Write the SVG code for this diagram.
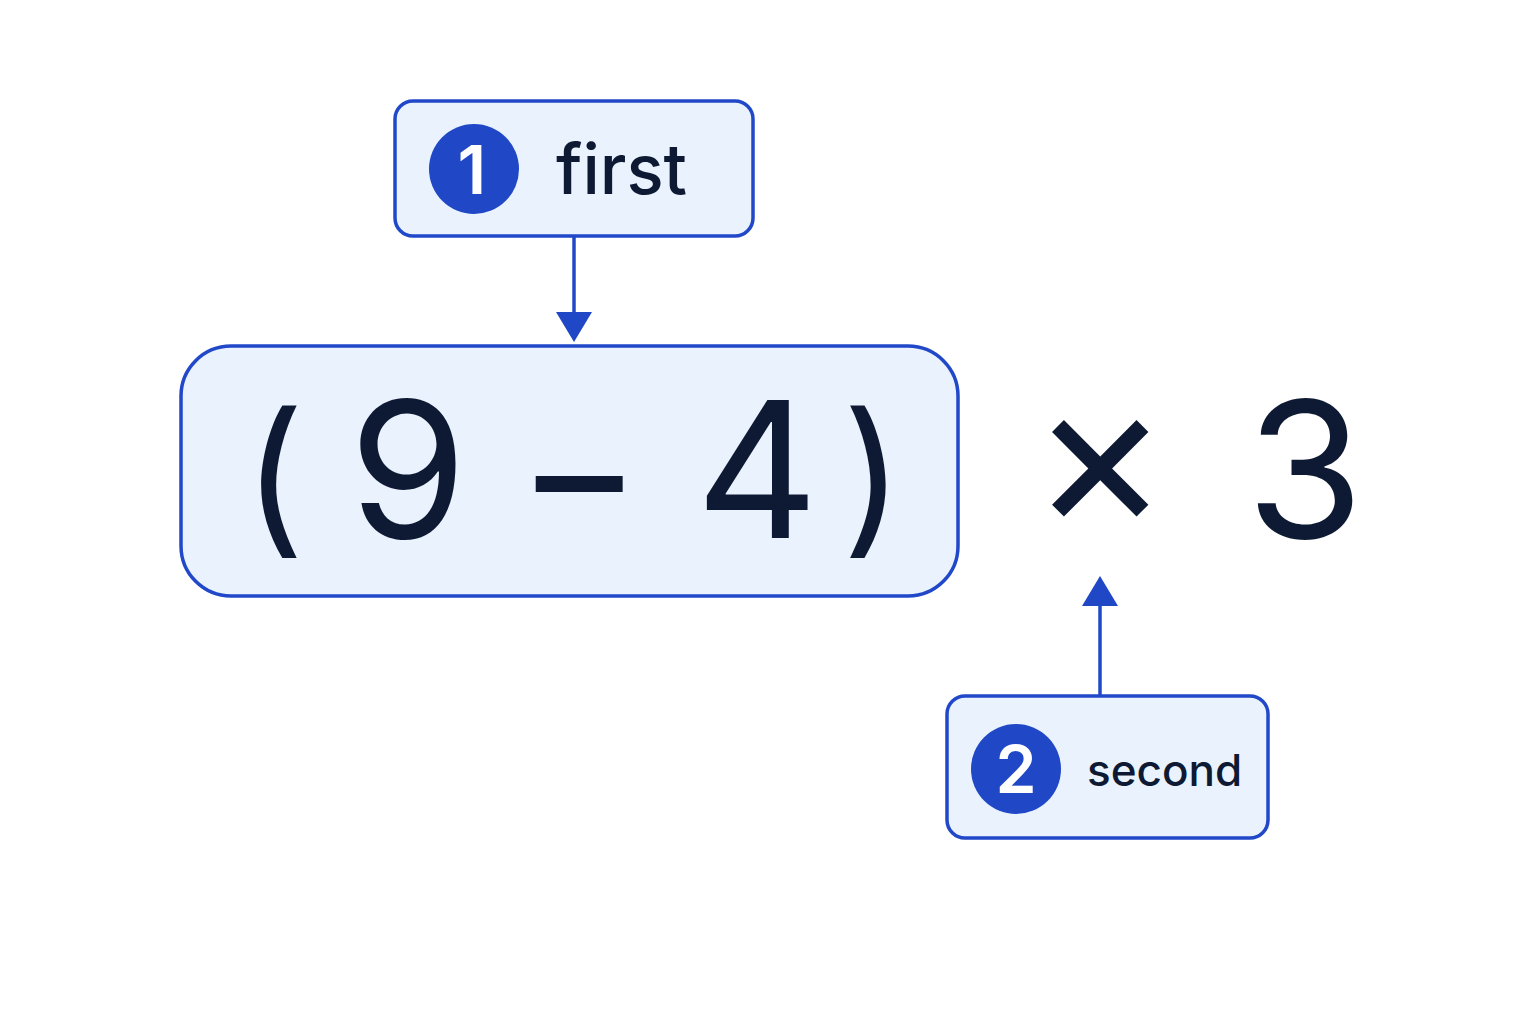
<svg xmlns="http://www.w3.org/2000/svg" width="1536" height="1024" viewBox="0 0 1536 1024">
<style>
.box{fill:#EAF3FD;stroke:#2148C8;stroke-width:3.5}
.t{font-family:Inter,"Liberation Sans",sans-serif;fill:#0E1A33}
.big{font-size:190px;text-anchor:middle}
.par{font-size:168px}
.mul{font-size:210px}
.badge{fill:#1F47C6}
.num{font-family:Inter,"Liberation Sans",sans-serif;fill:#fff;font-weight:600;text-anchor:middle}
.ln{stroke:#2148C8;stroke-width:3.5;fill:none}
</style>
<rect width="1536" height="1024" fill="#fff"/>
<g id="expr">
<rect class="box" x="181" y="346" width="777" height="250" rx="50"/>
<text class="t big par" x="274" y="535">(</text>
<text class="t big" x="408" y="538">9</text>
<text class="t big" x="579" y="538">−</text>
<text class="t big" x="757" y="538">4</text>
<text class="t big par" x="873" y="535">)</text>
<text class="t big mul" x="1100" y="528">×</text>
<text class="t big" x="1305" y="538">3</text>
</g>
<g id="first">
<rect class="box" x="395" y="101" width="358" height="135" rx="18"/>
<circle class="badge" cx="474" cy="169" r="45"/>
<text class="num" x="472" y="194" font-size="68">1</text>
<text class="t" x="556" y="194" font-size="69" font-weight="500">first</text>
</g>
<g id="second">
<rect class="box" x="947" y="696" width="321" height="142" rx="18"/>
<circle class="badge" cx="1016" cy="769" r="45"/>
<text class="num" x="1016" y="793" font-size="66">2</text>
<text class="t" x="1087" y="786" font-size="44" font-weight="500">second</text>
</g>
<g id="connectors">
<line class="ln" x1="574" y1="236" x2="574" y2="314"/>
<path d="M556,312L592,312L574,342Z" fill="#1F47C6"/>
<line class="ln" x1="1100" y1="696" x2="1100" y2="604"/>
<path d="M1082,606L1118,606L1100,576Z" fill="#1F47C6"/>
</g>
</svg>
